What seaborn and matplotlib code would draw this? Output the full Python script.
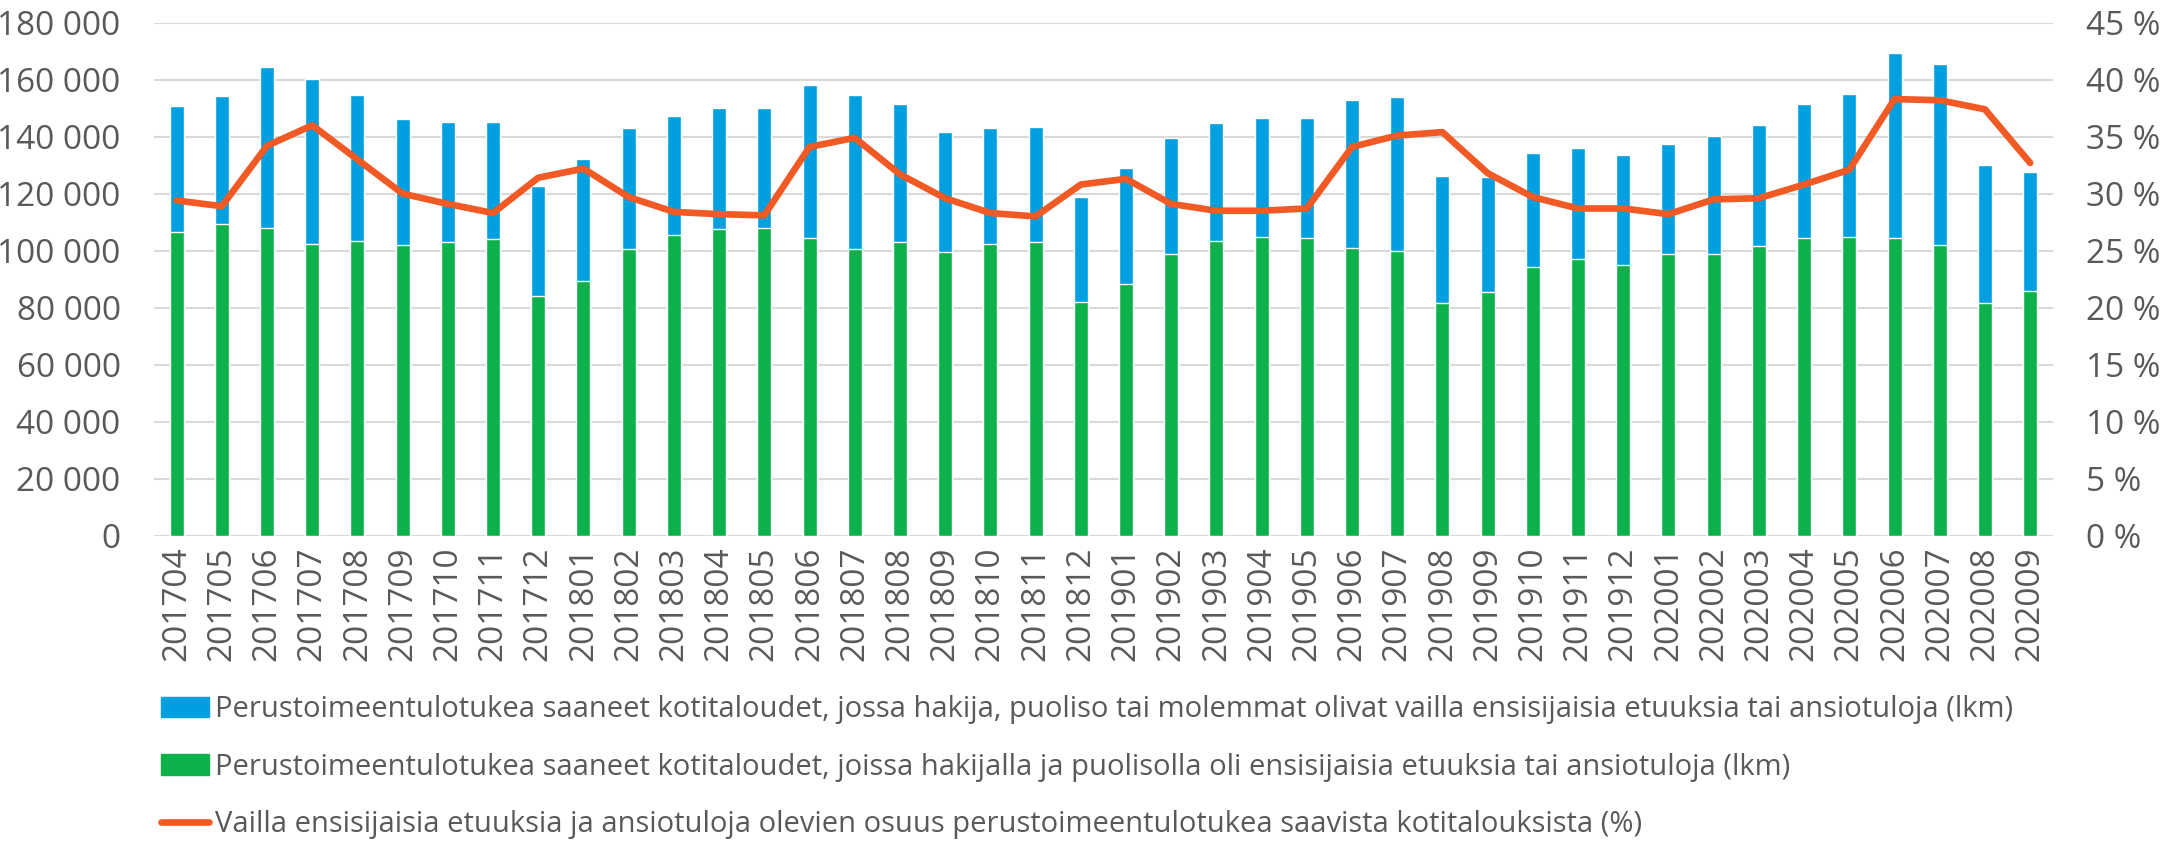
import numpy as np
import pandas as pd
import seaborn as sns
import matplotlib.pyplot as plt
from matplotlib.patches import Patch
from matplotlib.lines import Line2D
from matplotlib.ticker import FuncFormatter, MultipleLocator

# kuukaudet
kuukaudet = [
    "201704", "201705", "201706", "201707", "201708", "201709", "201710", "201711", "201712",
    "201801", "201802", "201803", "201804", "201805", "201806", "201807", "201808", "201809",
    "201810", "201811", "201812", "201901", "201902", "201903", "201904", "201905", "201906",
    "201907", "201908", "201909", "201910", "201911", "201912", "202001", "202002", "202003",
    "202004", "202005", "202006", "202007", "202008", "202009",
]

# kotitaloudet yhteensä (lkm)
yhteensa = [
    150900, 154300, 164300, 160400, 154800, 146200, 145100, 145100, 122600,
    132300, 143200, 147200, 150000, 150100, 158100, 154800, 151400, 141600,
    143100, 143400, 118800, 129000, 139500, 144900, 146600, 146700, 153000,
    153900, 126200, 125700, 134100, 136100, 133600, 137300, 140100, 144200,
    151300, 154900, 169300, 165500, 130200, 127700,
]

# ensisijaisia etuuksia tai ansiotuloja (lkm)
etuuksia = [
    106500, 109500, 108100, 102500, 103300, 102100, 102900, 104000, 84000,
    89500, 100500, 105600, 107500, 107800, 104300, 100500, 103100, 99600,
    102400, 103100, 82100, 88400, 98800, 103300, 104900, 104600, 100800,
    99900, 81500, 85500, 94100, 96900, 95100, 98800, 98800, 101500,
    104600, 104900, 104300, 102100, 81500, 85800,
]

# osuus (%)
osuus = [
    29.4, 28.9, 34.2, 36.0, 33.0, 30.0, 29.1, 28.3, 31.4,
    32.2, 29.7, 28.4, 28.2, 28.1, 34.1, 34.9, 31.7, 29.6,
    28.3, 28.0, 30.8, 31.3, 29.1, 28.5, 28.5, 28.7, 34.1,
    35.1, 35.4, 31.8, 29.7, 28.7, 28.7, 28.2, 29.5, 29.6,
    30.8, 32.1, 38.3, 38.2, 37.4, 32.7,
]

sininen = "#009FDF"
vihrea = "#0DB14B"
oranssi = "#F15A24"
harmaa = "#595959"

df = pd.DataFrame({"kk": kuukaudet, "yhteensa": yhteensa, "etuuksia": etuuksia, "osuus": osuus})

sns.set_style("white")
plt.rcParams["font.family"] = ["Open Sans", "DejaVu Sans"]

fig = plt.figure(figsize=(21.75, 8.42), dpi=100)
ax = fig.add_axes([0.0708, 0.364, 0.873, 0.609])

# pinotut pylväät: ensin yhteensä (sininen), päälle vihreä osuus
sns.barplot(data=df, x="kk", y="yhteensa", color=sininen, width=0.31, ax=ax, saturation=1)
sns.barplot(data=df, x="kk", y="etuuksia", color=vihrea, width=0.31, ax=ax, saturation=1)

ax.set_xlim(-0.5, len(kuukaudet) - 0.5)
ax.set_ylim(0, 180000)
ax.yaxis.set_major_locator(MultipleLocator(20000))
ax.yaxis.set_major_formatter(FuncFormatter(lambda v, p: f"{v:,.0f}".replace(",", " ")))
ax.yaxis.grid(True, color="#D9D9D9", lw=1.5)
ax.set_axisbelow(True)
ax.set_xlabel("")
ax.set_ylabel("")
for s in ax.spines.values():
    s.set_visible(False)
ax.tick_params(axis="y", length=0, pad=24, labelsize=24, labelcolor=harmaa)
ax.tick_params(axis="x", length=0, pad=8, labelsize=24, labelcolor=harmaa, labelrotation=90)

ax2 = ax.twinx()
sns.lineplot(x=np.arange(len(osuus)), y=osuus, color=oranssi, lw=4.8, ax=ax2)
ax2.set_ylim(0, 45)
ax2.yaxis.set_major_locator(MultipleLocator(5))
ax2.yaxis.set_major_formatter(FuncFormatter(lambda v, p: f"{v:.0f} %"))
for s in ax2.spines.values():
    s.set_visible(False)
ax2.tick_params(axis="y", length=0, pad=24, labelsize=24, labelcolor=harmaa)
ax2.set_xlim(-0.5, len(kuukaudet) - 0.5)

kahvat = [
    Patch(color=sininen),
    Patch(color=vihrea),
    Line2D([0], [0], color=oranssi, lw=4.8),
]
nimet = [
    "Perustoimeentulotukea saaneet kotitaloudet, jossa hakija, puoliso tai molemmat olivat vailla ensisijaisia etuuksia tai ansiotuloja (lkm)",
    "Perustoimeentulotukea saaneet kotitaloudet, joissa hakijalla ja puolisolla oli ensisijaisia etuuksia tai ansiotuloja (lkm)",
    "Vailla ensisijaisia etuuksia ja ansiotuloja olevien osuus perustoimeentulotukea saavista kotitalouksista (%)",
]
leg = fig.legend(kahvat, nimet, loc="upper left", bbox_to_anchor=(0.074, 0.174),
                 frameon=False, fontsize=21, handlelength=1.65, handletextpad=0.2,
                 labelspacing=0.97, borderaxespad=0, borderpad=0)
for t in leg.get_texts():
    t.set_color(harmaa)

plt.savefig("out.png", dpi=100)
plt.close()
